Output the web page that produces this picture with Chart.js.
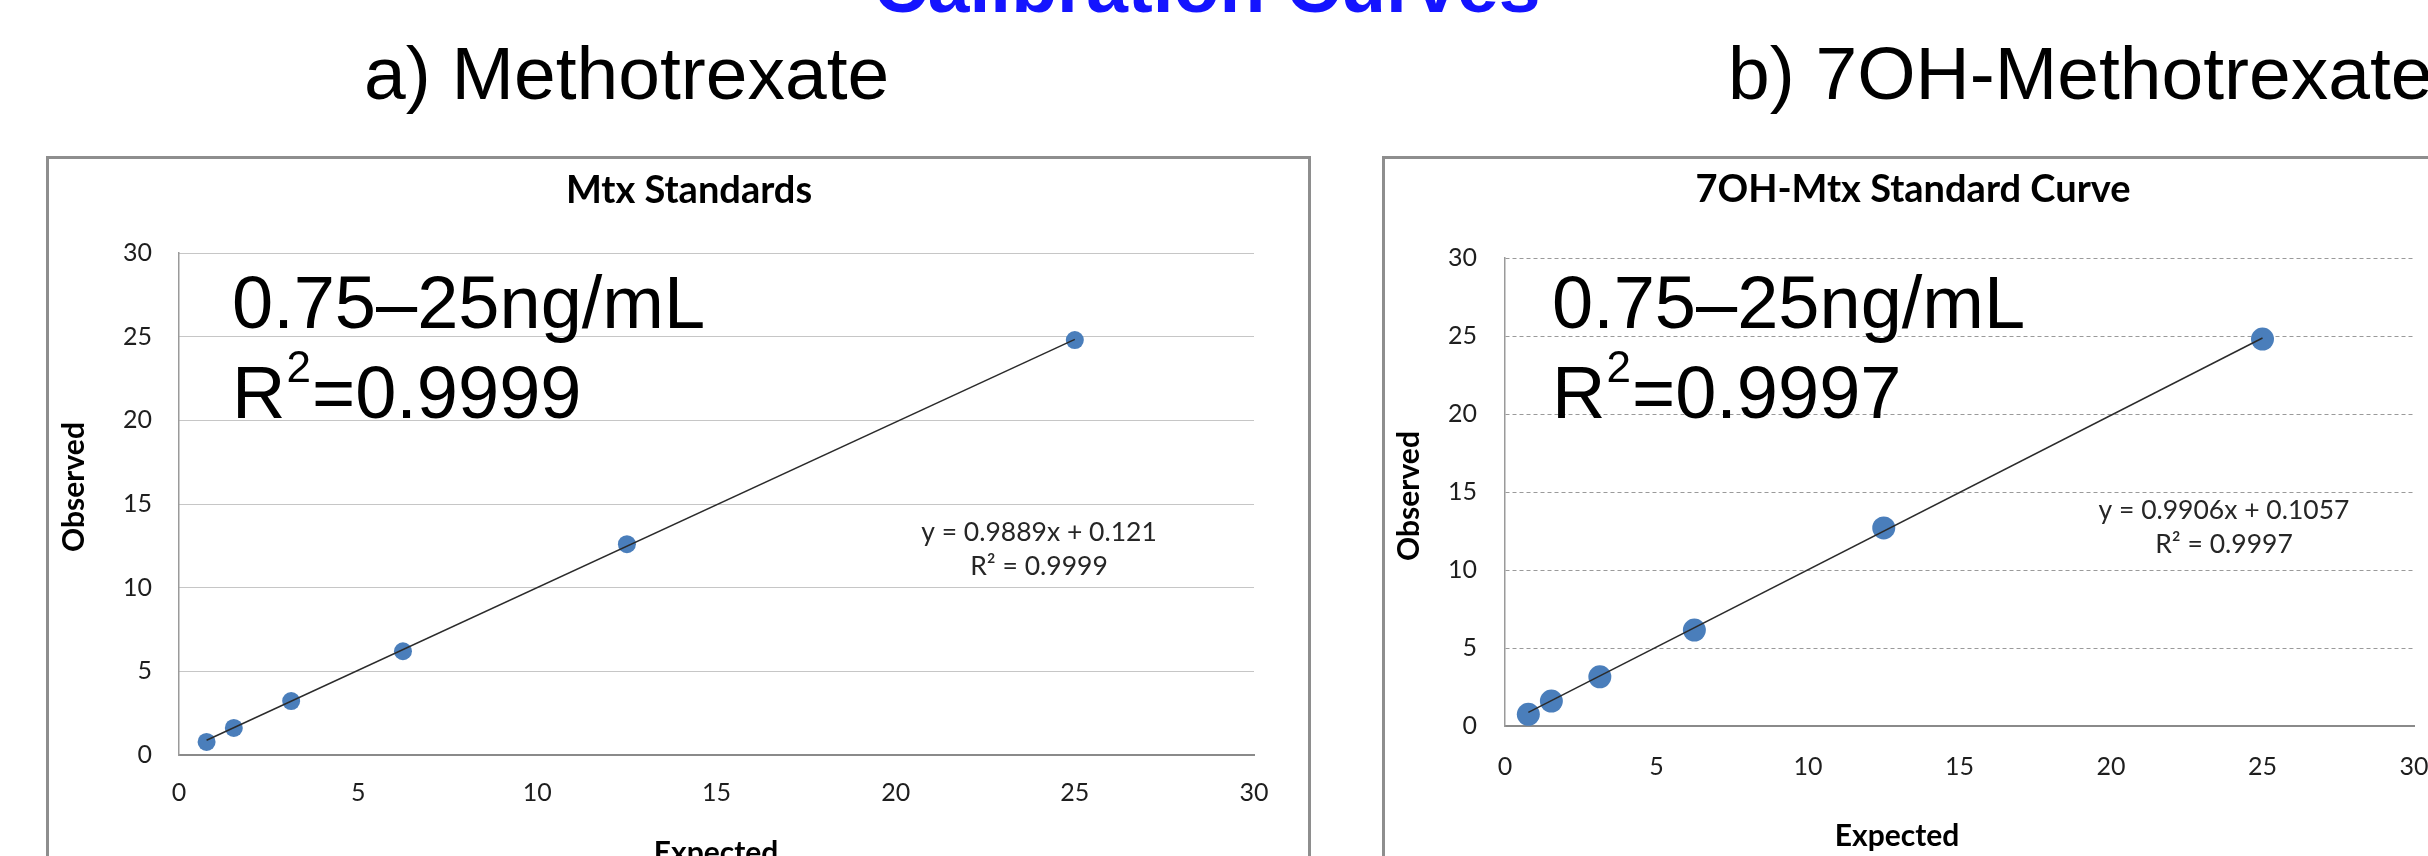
<!DOCTYPE html>
<html>
<head>
<meta charset="utf-8">
<title>Calibration Curves</title>
<script src="https://cdn.jsdelivr.net/npm/chart.js@4.4.0/dist/chart.umd.min.js"></script>
<style>
    html, body { margin: 0; padding: 0; background: #fff; }
    body { position: relative; width: 2428px; height: 856px; overflow: hidden; }
    .heading { position: absolute; font-family: "Liberation Sans", Arial, sans-serif; white-space: nowrap; line-height: 1; color: #000; }
    #mainTitle { left: 1207px; top: -51px; font-size: 75px; font-weight: bold; color: #1414ff; transform: translateX(-50%); }
    #headA { left: 364px; top: 36px; font-size: 75px; }
    #headB { left: 1728px; top: 36px; font-size: 75px; }
    .box { position: absolute; border: 3px solid #8e8e8e; background: #fff; }
    canvas { position: absolute; }
</style>
</head>
<body>
<div class="heading" id="mainTitle">Calibration Curves</div>
<div class="heading" id="headA">a) Methotrexate</div>
<div class="heading" id="headB">b) 7OH-Methotrexate</div>

<div class="box" style="left:46px; top:156px; width:1259px; height:760px;"></div>
<div class="box" style="left:1382px; top:156px; width:1200px; height:760px;"></div>
<canvas id="chartMtx" width="1259" height="760" style="left:49px; top:159px;"></canvas>
<canvas id="chartOH" width="1150" height="760" style="left:1385px; top:159px;"></canvas>

<script>
// values
const expected = [0.77, 1.53, 3.13, 6.25, 12.5, 25];
const observedMtx = [0.78, 1.62, 3.22, 6.2, 12.6, 24.8];
const observedOH = [0.75, 1.6, 3.15, 6.15, 12.7, 24.8];
const trendX = [0.77, 25];
const trendMtx = [0.88, 24.84];
const trendOH = [0.87, 24.87];
const axisTicks = [0, 5, 10, 15, 20, 25, 30];

const titles = ['Mtx Standards', '7OH-Mtx Standard Curve'];
const equations = [['y = 0.9889x + 0.121', 'R² = 0.9999'], ['y = 0.9906x + 0.1057', 'R² = 0.9997']];
const rangeText = '0.75–25ng/mL';
const rSquared = ['0.9999', '0.9997'];

// draws chart title, axis titles and the text boxes
const panelText = {
    id: 'panelText',
    afterDraw: function (chart, args, opts) {
        const ctx = chart.ctx;
        ctx.save();
        ctx.fillStyle = '#000';
        ctx.textAlign = 'center';
        ctx.textBaseline = 'middle';

        ctx.font = 'bold 38px Lato';
        ctx.fillText(opts.title, opts.titleAt[0], opts.titleAt[1]);

        ctx.font = 'bold 30px Lato';
        ctx.fillText('Expected', opts.xTitleAt[0], opts.xTitleAt[1]);
        ctx.save();
        ctx.translate(opts.yTitleAt[0], opts.yTitleAt[1]);
        ctx.rotate(-Math.PI / 2);
        ctx.fillText('Observed', 0, 0);
        ctx.restore();

        ctx.fillStyle = '#262626';
        ctx.font = '26.5px Lato';
        ctx.fillText(opts.equation[0], opts.eqAt[0], opts.eqAt[1]);
        ctx.fillText(opts.equation[1], opts.eqAt[0], opts.eqAt[1] + 34);

        // big range note, R with a superscript 2
        ctx.fillStyle = '#000';
        ctx.textAlign = 'left';
        ctx.textBaseline = 'alphabetic';
        const x0 = opts.noteAt[0];
        const y0 = opts.noteAt[1];
        ctx.font = '74px "Liberation Sans"';
        ctx.fillText(rangeText, x0, y0);
        ctx.fillText('R', x0, y0 + 90);
        let x = x0 + ctx.measureText('R').width;
        ctx.font = '44px "Liberation Sans"';
        ctx.fillText('2', x + 1, y0 + 90 - 36);
        x += ctx.measureText('2').width + 2;
        ctx.font = '74px "Liberation Sans"';
        ctx.fillText('=' + opts.r2, x, y0 + 90);
        ctx.restore();
    }
};

function makeChart(canvasId, observed, trend, cfg) {
    const points = expected.map((x, i) => ({x: x, y: observed[i]}));
    const line = trendX.map((x, i) => ({x: x, y: trend[i]}));
    const tickFont = {family: 'Lato', size: 25};
    return new Chart(document.getElementById(canvasId), {
        type: 'scatter',
        data: {
            datasets: [{
                label: 'Linear',
                data: line,
                showLine: true,
                borderColor: '#2b2b2b',
                borderWidth: 1.5,
                pointRadius: 0,
                order: 0
            }, {
                label: 'Standards',
                data: points,
                backgroundColor: '#4a7ebb',
                borderWidth: 0,
                pointRadius: cfg.radius,
                order: 1
            }]
        },
        options: {
            responsive: false,
            animation: false,
            layout: {padding: {left: 0, top: cfg.top, right: cfg.right, bottom: 0}},
            plugins: {
                legend: {display: false},
                tooltip: {enabled: false},
                panelText: cfg.text
            },
            scales: {
                x: {
                    type: 'linear',
                    min: axisTicks[0],
                    max: axisTicks[axisTicks.length - 1],
                    ticks: {stepSize: axisTicks[1] - axisTicks[0], padding: cfg.xPad, font: tickFont, color: '#1e1e1e'},
                    grid: {display: false, drawTicks: false},
                    border: {display: true, color: '#8a8a8a', width: 2},
                    afterFit: function (scale) { scale.height = cfg.xHeight; }
                },
                y: {
                    type: 'linear',
                    min: axisTicks[0],
                    max: axisTicks[axisTicks.length - 1],
                    ticks: {stepSize: axisTicks[1] - axisTicks[0], padding: cfg.yPad, font: tickFont, color: '#1e1e1e'},
                    grid: {color: cfg.gridColor, lineWidth: 1, drawTicks: false},
                    border: {display: true, color: '#9a9a9a', width: 1.5, dash: cfg.dash},
                    afterFit: function (scale) { scale.width = cfg.yWidth; }
                }
            }
        },
        plugins: [panelText]
    });
}

makeChart('chartMtx', observedMtx, trendMtx, {
    radius: 9, top: 94, right: 54, xHeight: 164, yWidth: 130, xPad: 23, yPad: 27,
    gridColor: '#8c8c8c', dash: [1, 1],
    text: {
        title: titles[0], titleAt: [640, 32],
        xTitleAt: [667, 694], yTitleAt: [25, 328],
        equation: equations[0], eqAt: [990, 373],
        r2: rSquared[0], noteAt: [183, 169]
    }
});

makeChart('chartOH', observedOH, trendOH, {
    radius: 11.5, top: 99, right: 121, xHeight: 193, yWidth: 120, xPad: 26, yPad: 28,
    gridColor: '#9a9a9a', dash: [4, 3],
    text: {
        title: titles[1], titleAt: [528, 31],
        xTitleAt: [512, 677], yTitleAt: [24, 337],
        equation: equations[1], eqAt: [839, 351],
        r2: rSquared[1], noteAt: [167, 169]
    }
});
</script>
</body>
</html>
